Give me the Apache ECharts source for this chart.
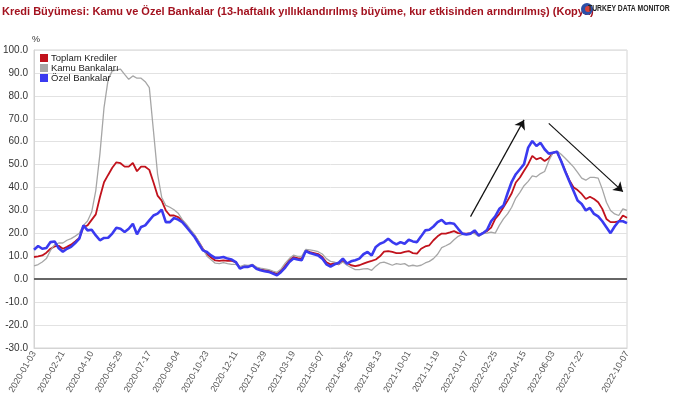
<!DOCTYPE html>
<html>
<head>
<meta charset="utf-8">
<script src="https://cdn.jsdelivr.net/npm/echarts@6/dist/echarts.min.js"></script>
<style>
  html, body { margin: 0; padding: 0; background: #fff; }
  #main { width: 675px; height: 397px; }
</style>
</head>
<body>
<div id="main"></div>
<script>
// weekly observations, 2020-01-03 .. 2022-10-07
let firstWeek = "2020-01-03";
let weekCount = 145;

let toplam = [
    9.7, 10.0, 10.4, 11.6, 13.3, 14.3, 14.6, 13.3, 14.1, 15.1, 16.5, 18.0, 22.8, 23.5, 25.9, 28.3, 35.8, 42.3,
    45.5, 48.6, 51.0, 50.6, 49.1, 49.1, 50.7, 47.1, 49.1, 49.1, 47.7, 42.3, 36.5, 34.3, 30.0, 27.8, 27.8, 27.1,
    25.5, 23.3, 21.0, 19.0, 16.2, 13.3, 11.0, 9.5, 8.2, 8.0, 8.2, 8.0, 8.0, 7.5, 5.0, 5.5, 5.5, 6.2, 5.0,
    4.2, 4.0, 3.8, 3.0, 2.3, 3.8, 6.0, 8.2, 9.7, 9.2, 9.0, 12.6, 11.8, 11.4, 11.0, 9.7, 7.4, 6.5, 7.0,
    6.5, 8.0, 7.1, 6.1, 5.7, 6.1, 6.8, 7.5, 8.0, 8.6, 10.0, 12.0, 12.3, 11.9, 11.4, 11.4, 11.9, 12.3, 11.4,
    11.2, 13.3, 14.3, 14.8, 17.0, 18.7, 19.9, 19.9, 20.4, 21.0, 20.1,
    19.9, 19.9, 20.1, 20.5, 19.3, 20.1, 21.0, 22.5, 26.3, 28.5, 31.4, 34.3, 37.5, 42.2, 44.4, 47.3, 50.2,
    53.8, 52.3, 53.0, 51.6, 52.8, 55.2, 55.6, 51.6, 47.3, 43.2, 40.1, 38.9, 37.2, 35.0, 36.0, 35.0, 33.6,
    30.7, 26.3, 24.9, 24.9, 25.2, 27.8, 26.8
];

let kamu = [
    5.8, 6.4, 7.5, 9.0, 12.6, 15.1, 15.8, 15.8, 17.0, 17.7, 18.8, 20.1, 23.5, 25.4, 29.3, 38.7, 54.6, 74.9,
    87.2, 90.9, 91.2, 91.7, 89.4, 87.2, 88.7, 87.7, 87.7, 86.2, 83.6, 64.8, 45.9, 35.8, 32.2, 31.4, 30.3, 28.8,
    26.0, 24.0, 21.6, 19.4, 16.5, 13.3, 10.0, 8.5, 7.0, 6.8, 7.2, 6.8, 6.5, 6.5, 5.5, 6.2, 6.0, 6.5, 5.3,
    4.8, 4.5, 4.2, 3.5, 3.0, 4.5, 7.0, 9.0, 10.5, 10.0, 10.0, 13.0, 12.8, 12.5, 12.0, 11.0, 9.0, 7.8, 7.5,
    6.5, 7.5, 6.1, 5.1, 4.2, 4.2, 4.5, 4.6, 3.9, 5.7, 7.1, 7.5, 6.8, 6.1, 6.8, 6.5, 6.8, 5.7, 6.1,
    5.7, 6.1, 7.1, 7.8, 9.0, 10.9, 13.8, 14.6, 15.5, 17.2, 18.7,
    19.6, 19.9, 20.1, 19.9, 18.7, 19.9, 20.1, 20.6, 20.1, 23.5, 26.3, 28.5, 31.4, 35.4, 37.9, 40.8, 42.7,
    45.1, 44.7, 46.1, 47.0, 51.6, 55.2, 55.9, 54.5, 52.8, 50.9, 49.0, 46.6, 44.1, 43.2, 44.4, 44.4, 44.1,
    39.3, 33.6, 30.0, 28.5, 27.8, 30.7, 30.0
];

let ozel = [
    12.9, 14.5, 13.3, 13.6, 16.2, 16.5, 13.5, 12.0, 13.3, 14.1, 15.8, 17.7, 23.5, 21.3, 21.6, 19.1, 17.0, 18.0,
    18.1, 19.9, 22.5, 22.0, 20.6, 22.0, 24.2, 19.6, 22.8, 23.5, 25.7, 27.8, 28.6, 30.4, 24.9, 24.9, 26.7, 26.0,
    24.9, 22.8, 20.6, 18.4, 15.5, 12.6, 11.9, 10.4, 9.3, 9.4, 9.7, 9.0, 8.6, 7.5, 4.6, 5.4, 5.4, 6.1, 4.6,
    3.9, 3.5, 3.2, 2.5, 1.7, 3.2, 5.1, 7.5, 9.0, 8.6, 8.3, 12.3, 11.4, 10.9, 10.4, 9.0, 6.5, 5.5, 6.5,
    7.2, 9.0, 6.8, 7.8, 8.3, 9.0, 10.9, 11.9, 10.4, 14.1, 15.5, 16.2, 17.7, 16.2, 15.2, 16.2, 15.5, 17.2, 16.5,
    16.2, 18.7, 21.3, 21.6, 23.0, 24.9, 25.9, 24.2, 24.5, 24.2, 22.0,
    19.9, 19.5, 19.9, 21.3, 19.1, 20.1, 21.5, 25.3, 27.4, 30.7, 32.1, 37.5, 42.5, 45.8, 48.0, 50.2, 57.4,
    60.3, 58.1, 59.5, 56.7, 54.8, 55.2, 55.6, 51.6, 47.0, 42.7, 38.6, 34.3, 32.8, 30.0, 31.1, 28.5, 27.4,
    25.3, 22.7, 20.1, 23.0, 25.3, 25.3, 24.5
];

let seriesNames = ["Toplam Krediler", "Kamu Bankaları", "Özel Bankalar"];
let seriesColors = ["#c1121c", "#a6a6a6", "#3a3af0"];

let yTicks = { min: -30, max: 100, step: 10 };

// arrows drawn on the chart: [week index, value] pairs
let arrowUp = [[106.3, 27.3], [119.2, 69.5]];
let arrowDown = [[124.5, 68.0], [142.7, 38.2]];

function weeklyDates(start, n) {
    let out = [];
    let d = new Date(start + "T00:00:00Z");
    for (let i = 0; i < n; i++) {
        out.push(d.toISOString().slice(0, 10));
        d = new Date(d.getTime() + 7 * 86400000);
    }
    return out;
}

let dates = weeklyDates(firstWeek, weekCount);

let myChart = echarts.init(document.getElementById("main"));

function lineSeries(idx, data, width) {
    return {
        name: seriesNames[idx],
        type: "line",
        data: data,
        symbol: "none",
        smooth: false,
        color: seriesColors[idx],
        lineStyle: { width: width, color: seriesColors[idx] },
        z: 2 + idx
    };
}

let arrowStyle = { color: "#111", width: 1.2, type: "solid" };

let option = {
    animation: false,
    textStyle: { fontFamily: "Liberation Sans, Arial, sans-serif" },
    title: {
        text: "Kredi Büyümesi: Kamu ve Özel Bankalar (13-haftalık yıllıklandırılmış büyüme, kur etkisinden arındırılmış) (Kopya)",
        left: -3,
        top: 1,
        textStyle: { fontSize: 11, fontWeight: "bold", color: "#a3121f", fontFamily: "Liberation Sans, Arial, sans-serif" }
    },
    graphic: [
        {
            type: "circle",
            left: 581,
            top: 3,
            shape: { r: 6 },
            style: { fill: "#2b4fa8" },
            z: 10
        },
        {
            type: "circle",
            left: 585,
            top: 6,
            shape: { r: 3 },
            style: { fill: "#d6403a" },
            z: 11
        },
        {
            type: "text",
            x: 588,
            y: 4,
            scaleX: 0.8,
            style: {
                text: "TURKEY DATA MONITOR",
                fill: "#222",
                font: "bold 8.5px 'Liberation Sans', Arial, sans-serif"
            },
            z: 12
        }
    ],
    legend: {
        data: seriesNames,
        orient: "vertical",
        left: 40,
        top: 53,
        padding: 0,
        itemWidth: 8,
        itemHeight: 8,
        itemGap: 0,
        icon: "rect",
        textStyle: { fontSize: 9.5, color: "#222", lineHeight: 10, padding: [0, 0, 0, -2] }
    },
    grid: {
        left: 34,
        right: 48,
        top: 50,
        bottom: 49,
        show: true,
        borderColor: "#d4d4d4",
        borderWidth: 1
    },
    xAxis: {
        type: "category",
        data: dates,
        boundaryGap: false,
        axisLine: { onZero: false, lineStyle: { color: "#d4d4d4" } },
        axisTick: { show: false },
        splitLine: { show: false },
        axisLabel: {
            rotate: 60,
            fontSize: 9,
            color: "#555",
            margin: 4,
            interval: function (index) {
                return (index % 7 === 0 && index <= 133) || index === dates.length - 1;
            }
        }
    },
    yAxis: {
        type: "value",
        name: "%",
        nameLocation: "end",
        nameGap: 6,
        nameTextStyle: { fontSize: 9, color: "#333", align: "left", padding: [0, 0, 0, -2] },
        min: yTicks.min,
        max: yTicks.max,
        interval: yTicks.step,
        axisLine: { show: true, lineStyle: { color: "#d4d4d4" } },
        axisTick: { show: false },
        axisLabel: {
            fontSize: 10,
            color: "#333",
            margin: 6,
            formatter: (v) => v.toFixed(1)
        },
        splitLine: { lineStyle: { color: "#e2e2e2", width: 1 } }
    },
    series: [
        Object.assign(lineSeries(0, toplam, 1.8), {
            markLine: {
                silent: true,
                symbol: ["none", "none"],
                label: { show: false },
                lineStyle: { color: "#666", width: 2, type: "solid" },
                data: [{ yAxis: 0 }]
            }
        }),
        lineSeries(1, kamu, 1.3),
        Object.assign(lineSeries(2, ozel, 2.6), {
            markLine: {
                silent: true,
                symbol: ["none", "arrow"],
                symbolSize: 9,
                label: { show: false },
                lineStyle: arrowStyle,
                data: [
                    [{ coord: arrowUp[0] }, { coord: arrowUp[1] }],
                    [{ coord: arrowDown[0] }, { coord: arrowDown[1] }]
                ]
            }
        })
    ]
};

myChart.setOption(option);
</script>
</body>
</html>
